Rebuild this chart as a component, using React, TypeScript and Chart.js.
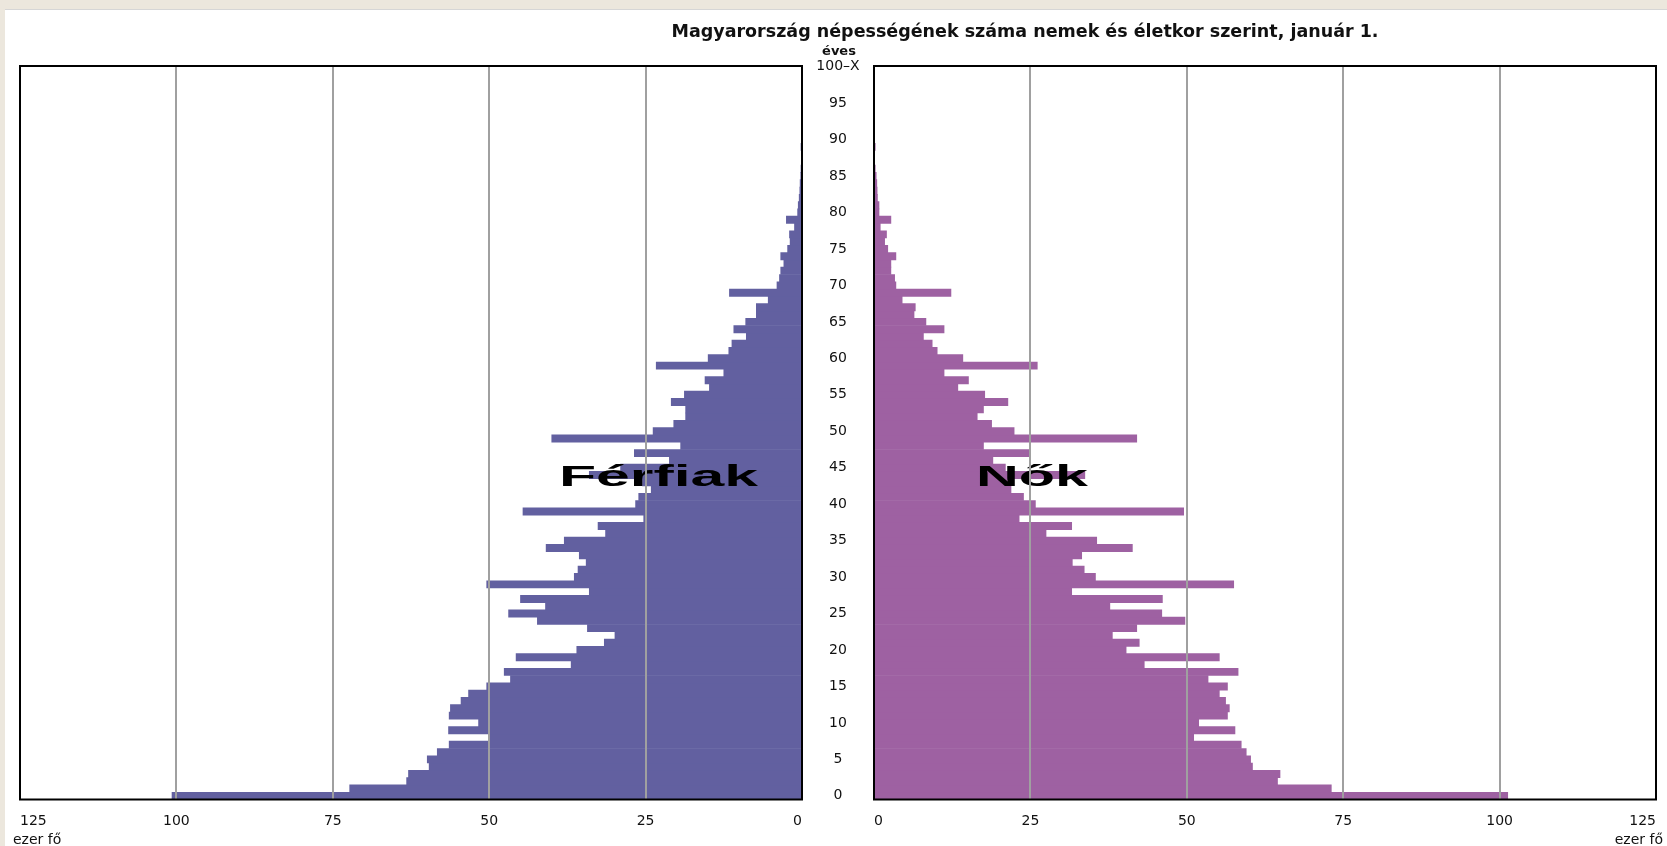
import React, { useEffect, useRef } from 'react';
import { Chart, registerables } from 'chart.js';

Chart.register(...registerables);

// ---- data ----
const TITLE = 'Magyarország népességének száma nemek és életkor szerint, január 1.';
const AGE_UNIT = 'éves';
const VALUE_UNIT = 'ezer fő';
const MEN_LABEL = 'Férfiak';
const WOMEN_LABEL = 'Nők';

// age categories 0 ... 99 and the open-ended "100–X"
const AGES: string[] = Array.from({ length: 100 }, (_, i) => String(i)).concat(['100–X']);
const AGE_TICK_STEP = 5;

const X_MAX = 125;
const X_STEP = 25;

// thousand persons, age 0 ... 100–X
const MEN: number[] = [
  100.7, 72.3, 63.2, 62.9, 59.6, 59.9, 58.3, 56.4, 49.9, 56.5,
  51.7, 56.4, 56.2, 54.5, 53.3, 50.4, 46.6, 47.6, 36.9, 45.7,
  36.0, 31.6, 29.9, 34.3, 42.3, 46.9, 41.0, 45.0, 34.0, 50.4,
  36.4, 35.8, 34.5, 35.6, 40.9, 38.0, 31.4, 32.6, 25.3, 44.6,
  26.6, 26.1, 24.1, 25.5, 34.0, 29.0, 21.2, 26.8, 19.4, 40.0,
  23.8, 20.5, 18.6, 18.6, 20.9, 18.8, 14.8, 15.5, 12.5, 23.3,
  15.0, 11.7, 11.2, 8.9, 10.9, 9.0, 7.3, 7.3, 5.4, 11.6,
  4.0, 3.6, 3.4, 2.9, 3.4, 2.3, 1.9, 2.0, 1.2, 2.5,
  0.7, 0.6, 0.45, 0.35, 0.3, 0.2, 0.1, 0, 0, 0.15,
  0, 0, 0, 0, 0, 0, 0, 0, 0, 0,
  0,
];

const WOMEN: number[] = [
  101.3, 73.1, 64.5, 64.9, 60.5, 60.2, 59.5, 58.7, 51.1, 57.7,
  51.9, 56.5, 56.8, 56.2, 55.2, 56.5, 53.4, 58.2, 43.2, 55.2,
  40.3, 42.4, 38.1, 42.0, 49.7, 46.0, 37.7, 46.1, 31.6, 57.5,
  35.4, 33.6, 31.7, 33.2, 41.3, 35.6, 27.5, 31.6, 23.2, 49.5,
  25.8, 23.9, 21.9, 21.5, 33.7, 21.0, 19.0, 24.8, 17.5, 42.0,
  22.4, 18.8, 16.5, 17.5, 21.4, 17.7, 13.4, 15.1, 11.2, 26.1,
  14.2, 10.1, 9.3, 7.9, 11.2, 8.3, 6.4, 6.6, 4.5, 12.3,
  3.5, 3.3, 2.7, 2.7, 3.5, 2.2, 1.7, 2.0, 1.0, 2.7,
  0.8, 0.8, 0.55, 0.5, 0.45, 0.35, 0.2, 0, 0, 0.2,
  0, 0, 0, 0, 0, 0, 0, 0, 0, 0,
  0,
];

const MEN_COLOR = '#6260A0';
const WOMEN_COLOR = '#9E61A2';
const GRID_COLOR = '#A0A0A0';
const FONT_FAMILY = '"DejaVu Sans", Verdana, sans-serif';
const TICK_FONT = { family: FONT_FAMILY, size: 14 };
const FRAME_TOP_INSET = 3;
const TICK_PADDING = 13;

const framePlugin = {
  id: 'frame',
  afterDraw(chart: any) {
    const { ctx, chartArea } = chart;
    const top = chartArea.top + FRAME_TOP_INSET;
    ctx.save();
    ctx.fillStyle = '#fff';
    ctx.fillRect(chartArea.left - 2, chartArea.top - 2, chartArea.right - chartArea.left + 4, top - chartArea.top + 2);
    ctx.strokeStyle = '#000';
    ctx.lineWidth = 2;
    ctx.strokeRect(chartArea.left, top, chartArea.right - chartArea.left, chartArea.bottom - top);
    ctx.restore();
  },
};

function bigLabel(text: string, x: number, baseline: number, width: number) {
  return {
    id: 'big-' + text,
    afterDatasetsDraw(chart: any) {
      const ctx = chart.ctx;
      ctx.save();
      ctx.font = 'bold 29px "Liberation Sans", Arial, sans-serif';
      ctx.fillStyle = '#000';
      ctx.textBaseline = 'alphabetic';
      ctx.textAlign = 'left';
      const w = ctx.measureText(text).width;
      ctx.translate(x, baseline);
      ctx.scale(width / w, 1);
      ctx.fillText(text, 0, 0);
      ctx.restore();
    },
  };
}

function xScale(negative: boolean) {
  const lo = negative ? -X_MAX : 0;
  const hi = negative ? 0 : X_MAX;
  return {
    type: 'linear',
    min: lo,
    max: hi,
    ticks: {
      stepSize: X_STEP,
      align: 'inner',
      padding: TICK_PADDING,
      color: '#111',
      font: TICK_FONT,
      maxRotation: 0,
      callback: (v: any) => String(Math.abs(Number(v))),
    },
    grid: {
      z: 1,
      lineWidth: 2,
      drawTicks: false,
      color: (c: any) =>
        c.tick && (c.tick.value === lo || c.tick.value === hi) ? 'rgba(0,0,0,0)' : GRID_COLOR,
    },
    border: { display: false },
    afterFit: (s: any) => {
      s.height = 46.5;
    },
  };
}

function measureWidest(labels: string[], font: string) {
  const c = document.createElement('canvas').getContext('2d');
  if (!c) return 40;
  c.font = font;
  return Math.max(...labels.map((l) => c.measureText(l).width));
}

function PyramidSide({ left, width, side }: { left: number; width: number; side: 'men' | 'women' }) {
  const ref = useRef<HTMLCanvasElement | null>(null);
  useEffect(() => {
    if (!ref.current) return;
    const isMen = side === 'men';
    const shown = AGES.filter((_, i) => i % AGE_TICK_STEP === 0);
    const widest = measureWidest(shown, `${TICK_FONT.size}px ${FONT_FAMILY}`);
    const yAxisWidth = 72;
    const chart = new Chart(ref.current, {
      type: 'bar',
      data: {
        labels: AGES,
        datasets: [
          {
            data: isMen ? MEN.map((v) => -v) : WOMEN,
            backgroundColor: isMen ? MEN_COLOR : WOMEN_COLOR,
            borderWidth: 0,
            categoryPercentage: 1,
            barPercentage: 1,
          },
        ],
      },
      options: {
        indexAxis: 'y',
        animation: false,
        responsive: false,
        devicePixelRatio: 1,
        events: [],
        layout: {
          padding: isMen
            ? { top: 63, left: 20, right: 0, bottom: 0 }
            : { top: 63, left: 14, right: 14, bottom: 0 },
        },
        plugins: {
          legend: { display: false },
          title: { display: false },
          tooltip: { enabled: false },
        },
        scales: {
          x: xScale(isMen) as any,
          y: isMen
            ? ({
                type: 'category',
                reverse: true,
                position: 'right',
                offset: true,
                grid: { display: false, drawTicks: false },
                border: { display: false },
                ticks: {
                  autoSkip: false,
                  crossAlign: 'center',
                  padding: yAxisWidth / 2 - widest / 2,
                  color: '#111',
                  font: TICK_FONT,
                  callback: (_v: any, i: number) => (i % AGE_TICK_STEP === 0 ? AGES[i] : null),
                },
                afterFit: (s: any) => {
                  s.width = yAxisWidth;
                },
              } as any)
            : ({ type: 'category', reverse: true, offset: true, display: false } as any),
        },
      },
      plugins: [
        framePlugin,
        isMen ? bigLabel(MEN_LABEL, 559, 486, 199) : bigLabel(WOMEN_LABEL, 976 - left, 486, 112),
      ],
    } as any);
    return () => chart.destroy();
  }, [side, left]);
  return (
    <canvas
      ref={ref}
      width={width}
      height={846}
      style={{ position: 'absolute', left, top: 0, width, height: 846 }}
    />
  );
}

export default function App() {
  const txt: React.CSSProperties = {
    position: 'absolute',
    fontFamily: FONT_FAMILY,
    color: '#111',
    whiteSpace: 'nowrap',
    lineHeight: 1,
  };
  return (
    <div
      style={{
        position: 'fixed',
        left: 0,
        top: 0,
        width: 1667,
        height: 846,
        background: '#ECE7DD',
        overflow: 'hidden',
      }}
    >
      <div
        style={{
          position: 'absolute',
          left: 5,
          top: 9,
          right: 0,
          bottom: 0,
          background: '#fff',
          borderTop: '1px solid #D6D6D6',
        }}
      />
      <PyramidSide side="men" left={0} width={874} />
      <PyramidSide side="women" left={860} width={810} />
      <div style={{ ...txt, left: 1025, top: 32, transform: 'translate(-50%, -50%)', fontSize: 17.5, fontWeight: 'bold' }}>
        {TITLE}
      </div>
      <div style={{ ...txt, left: 839, top: 50, transform: 'translate(-50%, -50%)', fontSize: 13, fontWeight: 'bold' }}>
        {AGE_UNIT}
      </div>
      <div style={{ ...txt, left: 13, top: 839, transform: 'translateY(-50%)', fontSize: 14 }}>{VALUE_UNIT}</div>
      <div style={{ ...txt, right: 4, top: 839, transform: 'translateY(-50%)', fontSize: 14 }}>{VALUE_UNIT}</div>
    </div>
  );
}
